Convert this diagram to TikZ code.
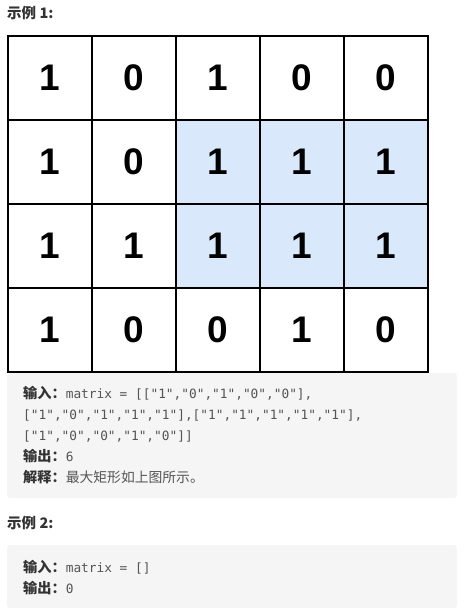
\documentclass[tikz,border=0pt]{standalone}
\usepackage{fontspec}
\setmainfont{Liberation Sans}
\setmonofont{DejaVu Sans Mono}
\newfontfamily\cjk{Noto Sans CJK SC}
\usepackage{xcolor}
\definecolor{hl}{HTML}{DAE8FC}
\definecolor{codebg}{HTML}{F5F5F5}
\definecolor{txt}{HTML}{333333}
\definecolor{codetxt}{HTML}{555555}

\tikzset{
  cell/.style={draw, line width=1.5pt, minimum size=84pt, inner sep=0pt,
    font=\bfseries\fontsize{37}{37}\selectfont},
  title/.style={anchor=base west, inner sep=0pt, text=txt,
    font=\cjk\bfseries\fontsize{14.5}{15}\selectfont},
  line/.style={anchor=base west, inner sep=0pt, text=codetxt,
    font=\ttfamily\fontsize{12.8}{14}\selectfont},
}
\newcommand{\lbl}[1]{{\cjk\bfseries\fontsize{14.2}{15}\selectfont\color{txt}#1}}

\begin{document}
\begin{tikzpicture}[x=1pt, y=-1pt]
        \useasboundingbox (0,0) rectangle (468,616);

        % Example 1 title
        \node[title] (title1) at (7,18) {示例 1:};

        % Draw the matrix
        \foreach \row [count=\r] in {{1,0,1,0,0},{1,0,1,1,1},{1,1,1,1,1},{1,0,0,1,0}} {
          \foreach \v [count=\c] in \row {
            \def\shade{white}
            \ifnum\r>1 \ifnum\r<4 \ifnum\c>2 \def\shade{hl}\fi\fi\fi
            \node[cell, fill=\shade] (c\r\c) at (\c*84-34, \r*84-6) {\v};
          }
        }

        % Code box of example 1
        \fill[codebg, rounded corners=3pt] (7,373) rectangle (457,498);
        \node[line] (in1) at (23,398) {\lbl{输入：}matrix = [["1","0","1","0","0"],};
        \node[line] (in2) at (23,419) {["1","0","1","1","1"],["1","1","1","1","1"],};
        \node[line] (in3) at (23,440) {["1","0","0","1","0"]]};
        \node[line] (out1) at (23,461) {\lbl{输出：}6};
        \node[line] (expl) at (23,482) {\lbl{解释：}{\cjk\fontsize{13.8}{15}\selectfont 最大矩形如上图所示。}};

        % Example 2
        \node[title] (title2) at (7,528) {示例 2:};
        \fill[codebg, rounded corners=3pt] (7,545) rectangle (457,608);
        \node[line] (in4) at (23,572) {\lbl{输入：}matrix = []};
        \node[line] (out2) at (23,593) {\lbl{输出：}0};
    \end{tikzpicture}
\end{document}
